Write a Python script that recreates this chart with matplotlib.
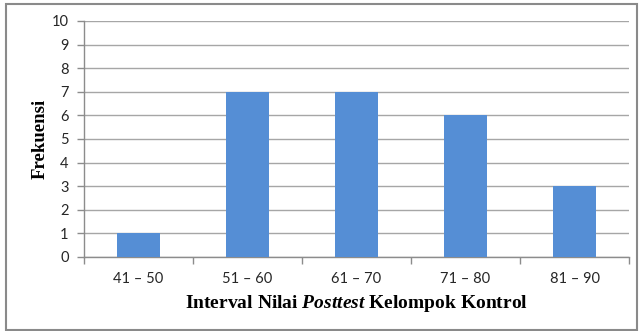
import numpy as np
import matplotlib.pyplot as plt
from matplotlib.patches import Rectangle

kelas = ["41 – 50", "51 – 60", "61 – 70", "71 – 80", "81 – 90"]
frekuensi = [1, 7, 7, 6, 3]

plt.rcParams["mathtext.fontset"] = "custom"
plt.rcParams["mathtext.bfit"] = "Liberation Serif:italic:bold"
plt.rcParams["mathtext.it"] = "Liberation Serif:italic:bold"
plt.rcParams["mathtext.rm"] = "Liberation Serif:bold"

fig = plt.figure(figsize=(6.41, 3.31), dpi=100)
fig.patch.set_facecolor("white")

# frame around the whole chart
fig.patches.append(Rectangle((6 / 641, 1 - 330 / 331), 631 / 641, 326 / 331,
                             transform=fig.transFigure, fill=False,
                             edgecolor="#8a8a8a", linewidth=1.5))

ax = fig.add_axes([84 / 641, 1 - 257 / 331, 545 / 641, 236 / 331])
x = np.arange(len(kelas))
ax.bar(x, frekuensi, width=0.4, color="#558ED5", zorder=3)

ax.set_xlim(-0.5, len(kelas) - 0.5)
ax.set_ylim(0, 10)
ax.set_yticks(range(0, 11))
ax.yaxis.grid(True, color="#a6a6a6", linewidth=1, zorder=0)

ax.set_xticks(x)
ax.set_xticklabels(kelas)
ax.set_xticks(np.arange(-0.5, len(kelas)), minor=True)
ax.tick_params(axis="x", which="major", length=0, pad=11)
ax.tick_params(axis="x", which="minor", length=5, color="#8c8c8c", width=1)
ax.tick_params(axis="y", length=5, color="#8c8c8c", width=1, pad=6)
for lab in ax.get_xticklabels() + ax.get_yticklabels():
    lab.set_fontfamily("Lato")
    lab.set_fontsize(10.5)
    lab.set_color("#262626")

for side in ["top", "right"]:
    ax.spines[side].set_visible(False)
for side in ["left", "bottom"]:
    ax.spines[side].set_color("#8c8c8c")
    ax.spines[side].set_linewidth(1)

ax.set_xlabel("Interval Nilai $\\mathbfit{Posttest}$ Kelompok Kontrol",
              fontfamily="Liberation Serif", fontweight="bold", fontsize=14,
              labelpad=5)
ax.set_ylabel("Frekuensi", fontfamily="Liberation Serif", fontweight="bold",
              fontsize=13.5, labelpad=2)

fig.savefig("out.png", dpi=100, facecolor="white")
